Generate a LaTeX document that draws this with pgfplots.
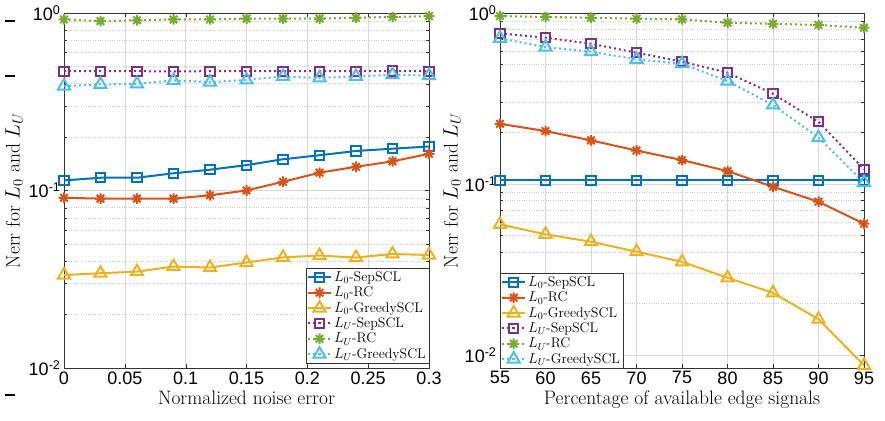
\documentclass[border=0pt]{standalone}
\usepackage{fontspec}
\usepackage{pgfplots}
\pgfplotsset{compat=1.18}
\newfontfamily\ticksf{Liberation Sans}
\definecolor{c1}{rgb}{0,0.447,0.741}
\definecolor{c2}{rgb}{0.85,0.325,0.098}
\definecolor{c3}{rgb}{0.929,0.694,0.125}
\definecolor{c4}{rgb}{0.494,0.184,0.556}
\definecolor{c5}{rgb}{0.466,0.674,0.188}
\definecolor{c6}{rgb}{0.301,0.745,0.933}
\pgfdeclareplotmark{mstar}{%
  \pgfpathmoveto{\pgfpoint{0pt}{\pgfplotmarksize}}\pgfpathlineto{\pgfpoint{0pt}{-\pgfplotmarksize}}%
  \pgfpathmoveto{\pgfpoint{\pgfplotmarksize}{0pt}}\pgfpathlineto{\pgfpoint{-\pgfplotmarksize}{0pt}}%
  \pgfpathmoveto{\pgfpoint{0.707\pgfplotmarksize}{0.707\pgfplotmarksize}}\pgfpathlineto{\pgfpoint{-0.707\pgfplotmarksize}{-0.707\pgfplotmarksize}}%
  \pgfpathmoveto{\pgfpoint{0.707\pgfplotmarksize}{-0.707\pgfplotmarksize}}\pgfpathlineto{\pgfpoint{-0.707\pgfplotmarksize}{0.707\pgfplotmarksize}}%
  \pgfusepathqstroke}
\tikzset{
  s1/.style={color=c1, line width=2pt, mark=square, mark size=4.6pt, mark options={solid, line width=2pt}},
  s2/.style={color=c2, line width=2pt, mark=mstar, mark size=5.3pt, mark options={solid, line width=2pt}},
  s3/.style={color=c3, line width=2pt, mark=triangle, mark size=7pt, mark options={solid, line width=2pt}},
  s4/.style={color=c4, line width=2pt, dash pattern=on 2pt off 3pt, mark=square, mark size=4.6pt, mark options={solid, line width=2pt}},
  s5/.style={color=c5, line width=2pt, dash pattern=on 2pt off 3pt, mark=mstar, mark size=5.3pt, mark options={solid, line width=2pt}},
  s6/.style={color=c6, line width=2pt, dash pattern=on 2pt off 3pt, mark=triangle, mark size=7pt, mark options={solid, line width=2pt}},
}
\begin{document}
\begin{tikzpicture}
\path[use as bounding box] (0pt,0pt) rectangle (885pt,420pt);
\draw[black, line width=1.2pt] (5pt,399pt) -- (15pt,399pt);
\draw[black, line width=1.2pt] (5pt,344pt) -- (15pt,344pt);
\draw[black, line width=1.2pt] (5pt,25pt) -- (15pt,25pt);
\begin{axis}[at={(64pt,52pt)}, anchor=south west,
  scale only axis, width=365pt, height=355pt, ymode=log,
  axis line style={black!80}, tick style={black!80},
  grid=both,
  major grid style={black!15, line width=0.5pt},
  minor grid style={black!20, dotted, line width=0.5pt},
  /pgf/number format/assume math mode=true,
  xticklabel style={font=\ticksf\fontsize{18}{18}\selectfont},
  yticklabel style={font=\ticksf\fontsize{18}{18}\selectfont},
  xmin=0, xmax=0.3, ymin=0.01, ymax=1,
  xtick={0,0.05,0.1,0.15,0.2,0.25,0.3},
  xticklabels={0,0.05,0.1,0.15,0.2,0.25,0.3},
  ytick={0.01,0.1,1},
  yticklabels={10\textsuperscript{-2},10\textsuperscript{-1},10\textsuperscript{0}},
  xlabel={Normalized noise error},
  ylabel={Nerr for $L_0$ and $L_U$},
  xlabel style={font=\fontsize{19.5}{22}\selectfont},
  ylabel style={font=\fontsize{19.5}{22}\selectfont, at={([xshift=-50pt]rel axis cs:0,0.5)}, anchor=center},
  legend style={font=\fontsize{14}{15}\selectfont, draw=black!80, fill=white,
    inner sep=1pt, row sep=0pt, at={(1,0.014)}, anchor=south east},
  legend cell align=left,
  legend image code/.code={\draw[mark repeat=2,mark phase=2] plot coordinates {(0pt,0pt)(11.5pt,0pt)(23pt,0pt)};},
  ]
\addplot[s1] coordinates {(0,0.114)(0.03,0.118)(0.06,0.118)(0.09,0.125)(0.12,0.131)(0.15,0.139)(0.18,0.150)(0.21,0.158)(0.24,0.167)(0.27,0.172)(0.3,0.177)};
\addplot[s2] coordinates {(0,0.091)(0.03,0.090)(0.06,0.090)(0.09,0.090)(0.12,0.094)(0.15,0.100)(0.18,0.112)(0.21,0.126)(0.24,0.136)(0.27,0.146)(0.3,0.161)};
\addplot[s3] coordinates {(0,0.0334)(0.03,0.0342)(0.06,0.0349)(0.09,0.0373)(0.12,0.0368)(0.15,0.0393)(0.18,0.0420)(0.21,0.0430)(0.24,0.0419)(0.27,0.0439)(0.3,0.0433)};
\addplot[s4] coordinates {(0,0.470)(0.03,0.470)(0.06,0.470)(0.09,0.469)(0.12,0.470)(0.15,0.470)(0.18,0.470)(0.21,0.470)(0.24,0.470)(0.27,0.471)(0.3,0.470)};
\addplot[s5] coordinates {(0,0.92)(0.03,0.90)(0.06,0.91)(0.09,0.92)(0.12,0.92)(0.15,0.93)(0.18,0.93)(0.21,0.93)(0.24,0.94)(0.27,0.95)(0.3,0.96)};
\addplot[s6] coordinates {(0,0.388)(0.03,0.396)(0.06,0.399)(0.09,0.417)(0.12,0.408)(0.15,0.420)(0.18,0.439)(0.21,0.431)(0.24,0.439)(0.27,0.449)(0.3,0.444)};
\legend{$L_0$-SepSCL,$L_0$-RC,$L_0$-GreedySCL,$L_U$-SepSCL,$L_U$-RC,$L_U$-GreedySCL}
\end{axis}
\begin{axis}[at={(500pt,52pt)}, anchor=south west,
  scale only axis, width=364pt, height=355pt, ymode=log,
  axis line style={black!80}, tick style={black!80},
  grid=both,
  major grid style={black!15, line width=0.5pt},
  minor grid style={black!20, dotted, line width=0.5pt},
  /pgf/number format/assume math mode=true,
  xticklabel style={font=\ticksf\fontsize{18}{18}\selectfont},
  yticklabel style={font=\ticksf\fontsize{18}{18}\selectfont},
  xmin=55, xmax=95, ymin=0.0084, ymax=1,
  xtick={55,60,65,70,75,80,85,90,95},
  ytick={0.01,0.1,1},
  yticklabels={10\textsuperscript{-2},10\textsuperscript{-1},10\textsuperscript{0}},
  xlabel={Percentage of available edge signals},
  ylabel={Nerr for $L_0$ and $L_U$},
  xlabel style={font=\fontsize{19.5}{22}\selectfont},
  ylabel style={font=\fontsize{19.5}{22}\selectfont, at={([xshift=-48pt]rel axis cs:0,0.5)}, anchor=center},
  legend style={font=\fontsize{14}{15}\selectfont, draw=black!80, fill=white,
    inner sep=1pt, row sep=0pt, at={(0,0)}, anchor=south west},
  legend cell align=left,
  legend image code/.code={\draw[mark repeat=2,mark phase=2] plot coordinates {(0pt,0pt)(11.5pt,0pt)(23pt,0pt)};},
  ]
\addplot[s1] coordinates {(55,0.105)(60,0.105)(65,0.105)(70,0.105)(75,0.105)(80,0.105)(85,0.105)(90,0.105)(95,0.105)};
\addplot[s2] coordinates {(55,0.225)(60,0.204)(65,0.180)(70,0.157)(75,0.138)(80,0.119)(85,0.0964)(90,0.0788)(95,0.0586)};
\addplot[s3] coordinates {(55,0.0581)(60,0.0508)(65,0.0460)(70,0.0402)(75,0.0351)(80,0.0283)(85,0.0231)(90,0.0162)(95,0.0087)};
\addplot[s4] coordinates {(55,0.761)(60,0.717)(65,0.661)(70,0.586)(75,0.519)(80,0.448)(85,0.337)(90,0.231)(95,0.122)};
\addplot[s5] coordinates {(55,0.960)(60,0.948)(65,0.938)(70,0.926)(75,0.919)(80,0.877)(85,0.865)(90,0.851)(95,0.820)};
\addplot[s6] coordinates {(55,0.711)(60,0.632)(65,0.594)(70,0.536)(75,0.505)(80,0.400)(85,0.290)(90,0.187)(95,0.102)};
\legend{$L_0$-SepSCL,$L_0$-RC,$L_0$-GreedySCL,$L_U$-SepSCL,$L_U$-RC,$L_U$-GreedySCL}
\end{axis}
\end{tikzpicture}
\end{document}
